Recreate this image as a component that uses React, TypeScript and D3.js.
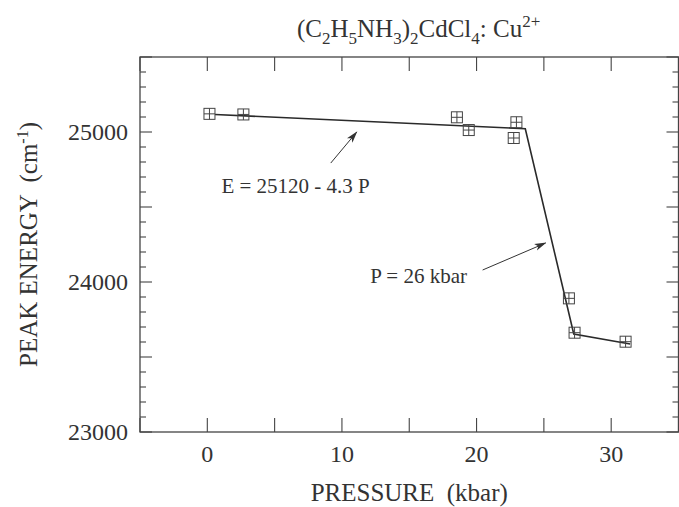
import React, { useEffect, useRef } from "react";
import * as d3 from "d3";

// Measured data points (pressure in kbar, peak energy in cm-1)
const pressure = [0.16, 2.68, 18.54, 19.42, 22.96, 22.76, 26.86, 27.28, 31.07];
const energy = [25121, 25117, 25098, 25013, 25065, 24960, 23891, 23662, 23602];

// Fitted line (piecewise)
const fitPressure = [0.57, 23.62, 27.22, 31.41];
const fitEnergy = [25117, 25022, 23653, 23587];

// Axis ticks
const xTickValues = [-5, 0, 5, 10, 15, 20, 25, 30, 35];
const xTickLabels = [0, 10, 20, 30];
const yTickLabels = [23000, 24000, 25000];

// Annotations
const arrowTails = [
  [9.17, 24793],
  [20.45, 24080],
];
const arrowTips = [
  [11.1, 25000],
  [25.13, 24260],
];
const annotationTexts = ["E = 25120 - 4.3 P", "P = 26 kbar"];
const annotationPos = [
  [1.05, 24593],
  [12.1, 23991],
];

const W = 679;
const H = 507;
const FONT = "Liberation Serif, Times New Roman, Times, DejaVu Serif, serif";
const INK = "#333";

export default function App() {
  const ref = useRef<SVGSVGElement>(null);

  useEffect(() => {
    const svg = d3.select(ref.current);
    svg.selectAll("*").remove();

    const left = 140, right = 678.5, top = 57, bottom = 432;
    const x = d3.scaleLinear().domain([-5, 35]).range([left, right]);
    const y = d3.scaleLinear().domain([23000, 25500]).range([bottom, top]);

    const defs = svg.append("defs");
    defs
      .append("marker")
      .attr("id", "arrowhead")
      .attr("viewBox", "0 0 12 8")
      .attr("refX", 11)
      .attr("refY", 4)
      .attr("markerWidth", 12)
      .attr("markerHeight", 8)
      .attr("markerUnits", "userSpaceOnUse")
      .attr("orient", "auto")
      .append("path")
      .attr("d", "M0,0.5 L12,4 L0,7.5 L3,4 Z")
      .attr("fill", INK);

    svg.append("rect").attr("width", W).attr("height", H).attr("fill", "#fff");

    svg
      .append("rect")
      .attr("x", left)
      .attr("y", top)
      .attr("width", right - left)
      .attr("height", bottom - top)
      .attr("fill", "none")
      .attr("stroke", "#444")
      .attr("stroke-width", 1.3);

    const yTicks = d3.range(23000, 25501, 100);
    const gy = svg.append("g").attr("stroke", "#444").attr("stroke-width", 1.1);
    yTicks.forEach((v) => {
      const len = v % 500 === 0 ? 12 : 6;
      gy.append("line").attr("x1", left).attr("x2", left + len).attr("y1", y(v)).attr("y2", y(v));
      gy.append("line").attr("x1", right).attr("x2", right - len).attr("y1", y(v)).attr("y2", y(v));
    });

    const gx = svg.append("g").attr("stroke", "#444").attr("stroke-width", 1.1);
    xTickValues.forEach((v) => {
      gx.append("line").attr("x1", x(v)).attr("x2", x(v)).attr("y1", bottom).attr("y2", bottom - 14);
      gx.append("line").attr("x1", x(v)).attr("x2", x(v)).attr("y1", top).attr("y2", top + 14);
    });

    svg
      .append("g")
      .selectAll("text")
      .data(yTickLabels)
      .join("text")
      .attr("x", left - 12)
      .attr("y", (d) => y(d) + 8)
      .attr("text-anchor", "end")
      .style("font-family", FONT)
      .attr("font-size", 24)
      .attr("fill", INK)
      .text((d) => String(d));

    svg
      .append("g")
      .selectAll("text")
      .data(xTickLabels)
      .join("text")
      .attr("x", (d) => x(d))
      .attr("y", 462)
      .attr("text-anchor", "middle")
      .style("font-family", FONT)
      .attr("font-size", 24)
      .attr("fill", INK)
      .text((d) => String(d));

    svg
      .append("text")
      .attr("x", (left + right) / 2)
      .attr("y", 501)
      .attr("text-anchor", "middle")
      .style("font-family", FONT)
      .attr("font-size", 25)
      .attr("fill", INK)
      .style("white-space", "pre")
      .text("PRESSURE  (kbar)");

    const yl = svg
      .append("text")
      .attr("transform", `translate(37,${(top + bottom) / 2}) rotate(-90)`)
      .attr("text-anchor", "middle")
      .style("font-family", FONT)
      .attr("font-size", 25)
      .attr("fill", INK)
      .style("white-space", "pre");
    yl.append("tspan").text("PEAK ENERGY  (cm");
    yl.append("tspan").attr("font-size", 16).attr("dy", -9).text("-1");
    yl.append("tspan").attr("dy", 9).text(")");

    const t = svg
      .append("text")
      .attr("x", 297)
      .attr("y", 37)
      .style("font-family", FONT)
      .attr("font-size", 25)
      .attr("fill", INK)
      .style("white-space", "pre");
    const parts: [string, number][] = [
      ["(C", 0], ["2", 1], ["H", 0], ["5", 1], ["NH", 0], ["3", 1], [")", 0], ["2", 1],
      ["CdCl", 0], ["4", 1], [": Cu", 0], ["2+", -1],
    ];
    let cur = 0;
    parts.forEach(([s, k]) => {
      const target = k === 1 ? 7 : k === -1 ? -10 : 0;
      const sp = t.append("tspan").attr("dy", target - cur).text(s);
      if (k !== 0) sp.attr("font-size", 17);
      cur = target;
    });

    const line = d3
      .line<number>()
      .x((_, i) => x(fitPressure[i]))
      .y((_, i) => y(fitEnergy[i]));
    svg
      .append("path")
      .attr("d", line(fitPressure))
      .attr("fill", "none")
      .attr("stroke", "#2a2a2a")
      .attr("stroke-width", 1.6);

    const s = 5.5;
    const gm = svg.append("g").attr("stroke", "#444").attr("stroke-width", 1).attr("fill", "none");
    pressure.forEach((p, i) => {
      const cx = x(p), cy = y(energy[i]);
      gm.append("rect").attr("x", cx - s).attr("y", cy - s).attr("width", 2 * s).attr("height", 2 * s);
      gm.append("line").attr("x1", cx - s).attr("x2", cx + s).attr("y1", cy).attr("y2", cy);
      gm.append("line").attr("x1", cx).attr("x2", cx).attr("y1", cy - s).attr("y2", cy + s);
    });

    arrowTails.forEach((tl, i) => {
      svg
        .append("line")
        .attr("x1", x(tl[0]))
        .attr("y1", y(tl[1]))
        .attr("x2", x(arrowTips[i][0]))
        .attr("y2", y(arrowTips[i][1]))
        .attr("stroke", INK)
        .attr("stroke-width", 1)
        .attr("marker-end", "url(#arrowhead)");
    });

    annotationTexts.forEach((txt, i) => {
      svg
        .append("text")
        .attr("x", x(annotationPos[i][0]))
        .attr("y", y(annotationPos[i][1]))
        .style("font-family", FONT)
        .attr("font-size", 21)
        .attr("fill", INK)
        .text(txt);
    });
  }, []);

  return (
    <svg
      ref={ref}
      width={W}
      height={H}
      style={{ position: "absolute", left: 0, top: 0, display: "block" }}
    />
  );
}
